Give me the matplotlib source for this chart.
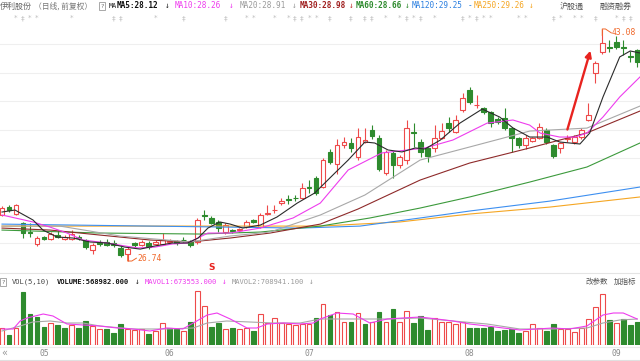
import numpy as np
import matplotlib
matplotlib.use("Agg")
import matplotlib.pyplot as plt
from matplotlib.lines import Line2D
from matplotlib.transforms import blended_transform_factory

# ---------------- data ----------------
opens = [29.98, 30.55, 30.05, 29.4, 28.75, 27.95, 28.4, 28.3, 28.6, 28.3,
         28.3, 28.45, 28.2, 27.5, 28.05, 28.1, 28.0, 27.65, 27.25, 28.0,
         27.9, 28.0, 27.95, 27.95, 28.05, 28.15, 28.25, 28.15, 28.05, 29.95,
         29.75, 29.5, 28.75, 28.9, 28.9, 29.15, 29.6, 29.15, 30.05, 30.3,
         30.85, 31.1, 31.2, 31.2, 31.95, 32.6, 31.95, 34.4, 33.6, 34.9,
         35.05, 34.05, 35.15, 35.95, 35.4, 32.95, 34.35, 33.5, 33.85, 35.8,
         35.15, 34.7, 34.7, 35.4, 36.45, 35.8, 37.4, 38.8, 37.7, 37.5,
         37.2, 36.75, 36.8, 36.1, 35.4, 34.9, 35.2, 35.4, 35.95, 34.9,
         34.7, 35.35, 35.1, 35.45, 36.65, 39.95, 41.45, 41.8, 42.15, 41.8,
         41.2, 41.6]
closes = [30.47, 30.35, 30.65, 28.7, 28.7, 28.35, 28.3, 28.65, 28.45, 28.4,
          28.65, 28.35, 27.7, 27.85, 27.95, 27.9, 27.85, 27.15, 27.6, 27.9,
          28.05, 27.7, 28.05, 28.2, 28.15, 28.0, 28.2, 27.9, 29.6, 29.9,
          29.45, 29.1, 29.3, 28.85, 29.0, 29.5, 29.5, 30.0, 30.15, 30.35,
          30.95, 31.05, 31.15, 31.9, 31.9, 31.5, 33.85, 33.7, 34.9, 35.1,
          34.7, 35.45, 35.25, 35.55, 33.2, 34.4, 33.5, 34.05, 36.1, 35.75,
          34.4, 34.1, 35.4, 35.9, 36.1, 36.65, 38.2, 37.95, 37.75, 37.25,
          36.45, 36.55, 36.1, 35.4, 34.9, 35.4, 35.4, 36.15, 35.1, 34.15,
          35.05, 35.4, 35.45, 35.95, 37.0, 40.65, 42.1, 41.75, 41.8, 41.75,
          41.1, 40.75]
highs = [30.6, 30.7, 30.75, 29.5, 29.4, 28.5, 28.5, 28.8, 28.9, 28.55,
         28.9, 28.6, 28.3, 28.0, 28.2, 28.3, 28.2, 27.8, 27.8, 28.1,
         28.25, 28.15, 28.2, 28.7, 28.3, 28.25, 28.45, 28.2, 29.8, 30.35,
         29.9, 29.6, 29.4, 29.0, 29.1, 29.6, 29.7, 30.1, 30.7, 30.7,
         31.15, 31.4, 31.4, 32.2, 32.45, 32.7, 34.0, 34.6, 35.3, 35.45,
         35.4, 36.1, 36.1, 36.3, 35.6, 34.55, 34.5, 34.2, 36.65, 36.45,
         35.3, 34.85, 36.3, 36.45, 36.85, 37.0, 38.55, 39.0, 38.4, 37.6,
         37.3, 36.9, 37.5, 36.2, 35.5, 35.6, 35.5, 36.45, 36.1, 35.0,
         35.15, 35.6, 35.6, 36.1, 37.85, 40.8, 43.08, 42.3, 42.6, 42.3,
         41.5, 41.7]
lows = [29.9, 30.2, 29.95, 28.35, 28.4, 27.8, 28.2, 28.2, 28.35, 28.2,
        28.2, 28.2, 27.6, 27.2, 27.8, 27.8, 27.7, 27.05, 26.74, 27.7,
        27.8, 27.6, 27.85, 27.9, 28.0, 27.9, 28.1, 27.7, 27.95, 29.6,
        29.35, 28.75, 28.65, 28.7, 28.8, 29.1, 29.4, 29.1, 30.0, 30.1,
        30.7, 30.75, 31.0, 31.1, 31.5, 31.4, 31.85, 33.6, 32.85, 34.7,
        34.4, 33.85, 35.05, 35.3, 33.1, 32.8, 32.6, 33.3, 33.6, 34.8,
        34.05, 33.7, 34.4, 35.3, 35.8, 35.75, 37.25, 37.8, 37.5, 37.1,
        36.15, 36.4, 36.0, 34.4, 34.7, 34.6, 35.1, 35.3, 34.95, 34.0,
        34.35, 35.1, 35.0, 35.3, 36.6, 39.25, 41.3, 41.45, 41.7, 41.25,
        40.75, 40.4]

volumes = [476, 280, 476, 1484, 868, 784, 504, 616, 560, 476,
           560, 476, 672, 532, 448, 448, 336, 588, 448, 420,
           448, 308, 392, 616, 476, 448, 392, 644, 1512, 1092,
           504, 616, 448, 476, 448, 476, 392, 868, 616, 756,
           616, 588, 560, 588, 588, 756, 1148, 840, 924, 644,
           644, 896, 588, 644, 924, 644, 1008, 644, 952, 616,
           812, 420, 756, 644, 644, 588, 644, 476, 476, 476,
           504, 392, 420, 448, 336, 392, 588, 476, 392, 588,
           448, 448, 364, 476, 728, 1064, 1428, 700, 616, 728,
           560, 644]
vol_up = [1, 0, 1, 0, 0, 0, 0, 1, 0, 0,
          1, 0, 0, 1, 1, 0, 0, 0, 1, 1,
          1, 0, 1, 1, 0, 0, 1, 0, 1, 1,
          0, 0, 1, 0, 1, 1, 0, 1, 1, 1,
          1, 1, 1, 1, 1, 0, 1, 0, 1, 1,
          0, 1, 0, 1, 0, 1, 0, 1, 1, 0,
          0, 0, 1, 1, 1, 1, 1, 0, 0, 0,
          0, 0, 0, 0, 0, 1, 1, 1, 0, 0,
          1, 1, 1, 1, 1, 1, 1, 0, 1, 0,
          0, 0]

ma5_x = [0, 1.86, 4.44, 5.87, 7.88, 10.17, 12.6, 15.04, 17.6, 19.8, 21.9, 24.4, 26.6, 28.1,
         29.5, 31.2, 32.7, 34.5, 37, 39.4, 42.3, 44.8, 47.7, 49.6, 52, 53.4, 55.3, 57.3,
         59.2, 60.6, 62.8, 65.6, 68.8, 71.3, 73.2, 75.6, 78.1, 79.9, 82.8, 84.2, 86.1, 88.5,
         90, 91.4]
ma5_y = [30.19, 30.33, 29.63, 28.92, 28.43, 28.36, 28.08, 28.01, 27.72, 27.58, 27.8, 28.01,
         28.01, 28.36, 29.06, 29.49, 29.34, 29.06, 29.27, 29.84, 30.82, 31.53, 32.94, 33.85,
         35.12, 35.05, 34.56, 34.42, 34.7, 34.63, 35.26, 36.45, 37.44, 36.88, 36.11, 35.47,
         35.47, 35.12, 34.98, 35.75, 38.29, 41.11, 41.53, 41.39]
ma10_x = [0, 4.44, 6.88, 9.31, 11.6, 15.04, 17.6, 19.5, 21.9, 24.4, 26.6, 29.5, 32.7, 37,
          41.7, 45.6, 49.6, 54.4, 60.6, 64.6, 69.5, 73.2, 75.6, 77.1, 79.9, 82.1, 83.8,
          86.1, 88.5, 91.4]
ma10_y = [29.98, 29.49, 29.13, 28.71, 28.22, 28.01, 27.8, 27.66, 27.72, 27.94, 28.01, 28.71,
          28.71, 29.06, 29.77, 30.82, 33.15, 34.35, 34.7, 35.26, 36.45, 36.67, 36.31, 35.75,
          35.47, 35.47, 35.75, 36.88, 38.29, 39.7]
ma20_x = [0, 8.3, 16.9, 26.9, 32.7, 38.4, 45.6, 52, 59.9, 67, 75.6, 83.8, 91.4]
ma20_y = [29.2, 29.2, 28.5, 28.08, 28.5, 28.78, 29.98, 31.39, 33.85, 34.77, 35.89, 36.1, 37.65]
ma30_x = [0, 6.9, 14, 21.2, 26.9, 32.7, 38.4, 45.6, 51, 59.9, 67, 75.6, 83.8, 91.4]
ma30_y = [29.06, 28.92, 28.57, 28.22, 28.08, 28.36, 28.71, 29.34, 30.4, 32.44, 33.64, 34.7,
          35.76, 37.3]
ma60_x = [0, 14, 28.4, 37, 45.6, 52.7, 59.9, 67, 75.6, 83.8, 91.4]
ma60_y = [28.92, 28.71, 28.64, 28.78, 29.2, 29.77, 30.47, 31.25, 32.3, 33.36, 35.05]
ma120_x = [0, 21.2, 42.7, 51.3, 59.9, 67, 78.5, 91.4]
ma120_y = [29.34, 29.2, 29.06, 29.2, 29.77, 30.26, 30.96, 31.95]
ma250_x = [0, 45.6, 57, 67, 78.5, 91.4]
ma250_y = [29.2, 29.2, 29.49, 30.05, 30.54, 31.25]

mavol1_x = [0, 1.6, 2.6, 3.6, 5.9, 7.3, 9.3, 11.6, 14, 16.5, 18.8, 21.2, 23.6, 25.9, 27.4,
            29.4, 30.8, 32.7, 35.1, 36.5, 38, 40.3, 42.7, 44.6, 45.6, 48, 50.3, 52.7, 55.2,
            57.4, 59.9, 62.3, 64.6, 67, 69.5, 71.8, 74.2, 76.6, 78.9, 81.3, 83.8, 86.1, 87.6,
            89, 91]
mavol1_y = [448, 448, 672, 756, 868, 812, 588, 560, 532, 476, 448, 392, 476, 448, 616,
            840, 896, 728, 476, 476, 588, 616, 588, 616, 728, 896, 868, 616, 728,
            756, 784, 728, 672, 588, 532, 476, 420, 448, 476, 448, 532, 840, 896,
            896, 728]
mavol2_x = [0, 2.6, 4.4, 6.9, 9.3, 11.6, 14, 18.8, 23.6, 27.4, 29.4, 32.2, 35.5, 38.8, 42.7,
            45.6, 50.3, 55.2, 59.9, 64.6, 69.5, 74.2, 78.9, 83.8, 86.1, 88.5, 91]
mavol2_y = [392, 532, 644, 672, 616, 616, 532, 448, 448, 476, 616, 672, 644, 616, 616,
            728, 728, 728, 756, 672, 588, 448, 448, 476, 616, 700, 728]

month_idx = [6, 24, 44, 67, 88]
month_labels = ["05", "06", "07", "08", "09"]

marker_idx = [2, 3, 4, 5, 10, 16, 17, 22, 26, 32, 35, 36, 39, 41, 42, 43, 44, 45,
              47, 50, 52, 53, 55, 57, 58, 59, 60, 62, 66, 67, 68, 69, 70, 74, 75,
              79, 80, 82, 83, 85, 88, 89, 90]
marker_sym = ["*", "‡", "*", "*", "*", "‡", "‡", "*", "‡", "‡", "*", "*", "*", "*", "‡", "‡", "*", "*",
              "‡", "‡", "‡", "‡", "*", "*", "‡", "*", "‡", "*", "‡", "*", "‡", "*", "*", "*", "*",
              "‡", "*", "*", "*", "‡", "*", "‡", "‡"]

high_idx, high_val = 86, 43.08
low_idx, low_val = 18, 26.74
signal_idx = 30

# ---------------- styles ----------------
RED = '#ee4a4a'
GREEN = '#2e8b2e'
C_MA5 = '#2b2b2b'
C_MA10 = '#ee3cee'
C_MA20 = '#a8a8a8'
C_MA30 = '#8e2a2a'
C_MA60 = '#3c9a3c'
C_MA120 = '#3d8ff0'
C_MA250 = '#f5a623'
MONO = ['DejaVu Sans Mono', 'DejaVu Sans']
CJK = ['Noto Sans CJK SC', 'DejaVu Sans']

W, H, DPI = 640, 361, 100
PX_PER_IDX = 6.98
X0 = 2.0
XLIM = (-X0 / PX_PER_IDX, (W - X0) / PX_PER_IDX)

fig = plt.figure(figsize=(W / DPI, H / DPI), dpi=DPI)
fig.patch.set_facecolor('white')


def fx(x):
    return x / W


def fy(y):
    return 1 - y / H


# ---------------- price panel ----------------
ax = fig.add_axes([0, fy(265), 1, (265 - 22) / H])
ax.set_xlim(*XLIM)
ax.set_ylim(26.46, 43.57)
ax.axis('off')
for lv in np.arange(28, 43, 2):
    ax.axhline(lv, color='#efefef', lw=0.8, zorder=0)

o = np.array(opens); c = np.array(closes); hh = np.array(highs); ll = np.array(lows)
idx = np.arange(len(o))
up = c >= o
lo = np.minimum(o, c); hi = np.maximum(o, c)
ht = np.maximum(hi - lo, 0.035)
cols = np.where(up, RED, GREEN)
ax.vlines(idx, ll, lo, colors=cols, lw=0.8, zorder=3)
ax.vlines(idx, hi, hh, colors=cols, lw=0.8, zorder=3)
ax.bar(idx[up], ht[up], bottom=lo[up], width=0.68, facecolor='white', edgecolor=RED,
       linewidth=0.8, zorder=4)
ax.bar(idx[~up], ht[~up], bottom=lo[~up], width=0.68, facecolor=GREEN, edgecolor=GREEN,
       linewidth=0.8, zorder=4)

for xs, ys, col in [(ma250_x, ma250_y, C_MA250), (ma120_x, ma120_y, C_MA120),
                    (ma60_x, ma60_y, C_MA60), (ma30_x, ma30_y, C_MA30),
                    (ma20_x, ma20_y, C_MA20), (ma10_x, ma10_y, C_MA10),
                    (ma5_x, ma5_y, C_MA5)]:
    ax.plot(xs, ys, color=col, lw=0.8, zorder=5, solid_joinstyle='round')

# high / low labels
ANN = '#f0682a'
ax.plot([high_idx, high_idx, high_idx + 0.45, high_idx + 1.3],
        [high_val - 0.45, high_val, high_val, high_val - 0.28], color=ANN, lw=0.7, zorder=6)
ax.text(high_idx + 1.4, high_val - 0.28, f"{high_val:.2f}", color=ANN, fontsize=5.8,
        family=MONO, va='center', ha='left', zorder=6)
ax.plot([low_idx, low_idx, low_idx + 0.6, low_idx + 1.25],
        [low_val + 0.4, low_val, low_val, low_val + 0.2], color=ANN, lw=0.7, zorder=6)
ax.text(low_idx + 1.35, low_val + 0.2, f"{low_val:.2f}", color=ANN, fontsize=5.8,
        family=MONO, va='center', ha='left', zorder=6)

# red arrow
ax.annotate('', xy=(84.3, 41.55), xytext=(81.0, 36.0),
            arrowprops=dict(arrowstyle='-|>', color='#e8231f', lw=1.7,
                            mutation_scale=9, shrinkA=0, shrinkB=0), zorder=7)

# signal S and event markers (x from data, y in figure rows)
trS = blended_transform_factory(ax.transData, fig.transFigure)
ax.text(signal_idx, fy(267), 'S', transform=trS, color='#e8231f', fontsize=6.5,
        fontweight='bold', ha='center', va='center', family=['DejaVu Sans'])
for mi, ms in zip(marker_idx, marker_sym):
    ax.text(mi, fy(18), ms, transform=trS, color='#bdbdbd', fontsize=5.2,
            ha='center', va='center', family=['DejaVu Sans'])

# ---------------- volume panel ----------------
axv = fig.add_axes([0, fy(345), 1, (345 - 283) / H])
axv.set_xlim(*XLIM)
axv.set_ylim(0, 62 * 28)
axv.axis('off')
v = np.array(volumes); vu = np.array(vol_up).astype(bool)
axv.bar(idx[vu], v[vu], width=0.68, facecolor='white', edgecolor=RED, linewidth=0.8, zorder=3)
axv.bar(idx[~vu], v[~vu], width=0.68, facecolor=GREEN, edgecolor=GREEN, linewidth=0.8, zorder=3)
axv.plot(mavol2_x, mavol2_y, color=C_MA20, lw=0.8, zorder=4)
axv.plot(mavol1_x, mavol1_y, color=C_MA10, lw=0.8, zorder=5)

trV = blended_transform_factory(axv.transData, fig.transFigure)
for mi, lab in zip(month_idx, month_labels):
    axv.text(mi, fy(354), lab, transform=trV, color='#8a8a8a', fontsize=5.8,
             ha='center', va='center', family=MONO)

# separator lines
for yy, colr in [(273, '#e4e4e4'), (347, '#ececec'), (359.5, '#e0e0e0')]:
    fig.add_artist(Line2D([0, 1], [fy(yy), fy(yy)], color=colr, lw=0.8))


# ---------------- header texts ----------------
def t(x, y, s, color, size=5.6, family=MONO, weight='normal'):
    fig.text(fx(x), fy(y), s, color=color, fontsize=size, family=family,
             fontweight=weight, ha='left', va='center')


def qbox(x, y):
    fig.text(fx(x), fy(y), '?', color='#777777', fontsize=4.6, family=['DejaVu Sans'],
             ha='left', va='center',
             bbox=dict(boxstyle='square,pad=0.25', fc='white', ec='#9a9a9a', lw=0.6))


HY = 6
t(0, HY, '伊利股份', '#666666', 5.8, CJK)
t(34, HY, '（日线, 前复权）', '#777777', 5.6, CJK)
qbox(100.5, HY)
t(108.5, HY, 'MA', '#222222', 4.9)
t(117, HY, 'MA5:28.12', '#111111', weight='bold')
t(165, HY, '↓', '#222222')
t(175, HY, 'MA10:28.26', C_MA10)
t(229, HY, '↓', C_MA10)
t(240, HY, 'MA20:28.91', '#9a9a9a')
t(292, HY, '↓', '#9a9a9a')
t(300, HY, 'MA30:28.98', '#a02020', weight='bold')
t(349, HY, '↓', '#c03030')
t(356, HY, 'MA60:28.66', '#2e8b2e', weight='bold')
t(405, HY, '↓', '#2e8b2e')
t(412, HY, 'MA120:29.25', '#2a7fe0')
t(468, HY, '-', '#2a7fe0')
t(474, HY, 'MA250:29.26', '#f5a623')
t(529, HY, '↓', '#f5a623')
t(560, HY, '沪股通', '#555555', 5.8, CJK)
t(600, HY, '融资融券', '#555555', 5.8, CJK)

VY = 282
qbox(1.5, VY)
t(12, VY, 'VOL(5,10)', '#444444', 5.1)
t(57, VY, 'VOLUME:568982.000', '#111111', 5.1, weight='bold')
t(135, VY, '↓', '#222222', 5.6)
t(145, VY, 'MAVOL1:673553.000', C_MA10, 5.1)
t(222, VY, '↓', C_MA10, 5.6)
t(232, VY, 'MAVOL2:708941.100', '#9a9a9a', 5.1)
t(309, VY, '↓', '#9a9a9a', 5.6)
t(586, VY, '改参数', '#555555', 5.4, CJK)
t(614, VY, '加指标', '#555555', 5.4, CJK)
t(1, 353, '«', '#9a9a9a', 7.0, ['DejaVu Sans'])

fig.savefig('out.png', dpi=DPI, facecolor='white')
